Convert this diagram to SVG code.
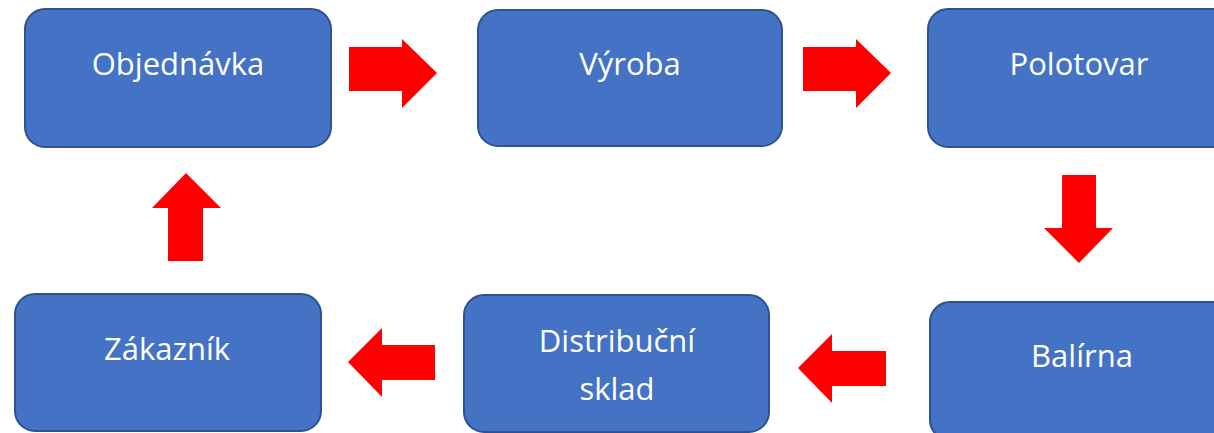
<svg xmlns="http://www.w3.org/2000/svg" width="1214" height="433" viewBox="0 0 1214 433">
<style>
.box{fill:#4472C4;stroke:#2F528F;stroke-width:2}
.lbl{fill:#FFFFFF;font-family:"Open Sans","Noto Sans",sans-serif;font-size:31px;text-anchor:middle}
.arr{fill:#FF0000}
</style>
<rect width="1214" height="433" fill="#FFFFFF"/>
<g id="objednavka"><rect class="box" x="25" y="9" width="306" height="138" rx="20"/><text class="lbl" x="178" y="75">Objednávka</text></g>
<g id="vyroba"><rect class="box" x="478" y="10" width="304" height="136" rx="20"/><text class="lbl" x="630" y="75">Výroba</text></g>
<g id="polotovar"><rect class="box" x="928" y="9" width="304" height="138" rx="20"/><text class="lbl" x="1079" y="75">Polotovar</text></g>
<g id="balirna"><rect class="box" x="930" y="302" width="304" height="138" rx="20"/><text class="lbl" x="1082" y="367">Balírna</text></g>
<g id="distribucni"><rect class="box" x="464" y="295" width="305" height="137" rx="20"/><text class="lbl" x="617" y="352">Distribuční</text><text class="lbl" x="617" y="400">sklad</text></g>
<g id="zakaznik"><rect class="box" x="15" y="294" width="306" height="137" rx="20"/><text class="lbl" x="167" y="360">Zákazník</text></g>
<g id="connectors">
<polygon class="arr" points="349,47 402,47 402,39 437,73 402,108 402,91 349,91"/>
<polygon class="arr" points="803,47 856,47 856,39 891,73 856,108 856,91 803,91"/>
<polygon class="arr" points="1062,175 1096,175 1096,228 1113,228 1079,263 1044,228 1062,228"/>
<polygon class="arr" points="886,351 832,351 832,334 798,368 832,403 832,386 886,386"/>
<polygon class="arr" points="435,345 382,345 382,328 348,362 382,397 382,380 435,380"/>
<polygon class="arr" points="168,261 168,208 152,208 186,173 221,208 203,208 203,261"/>
</g>
</svg>
